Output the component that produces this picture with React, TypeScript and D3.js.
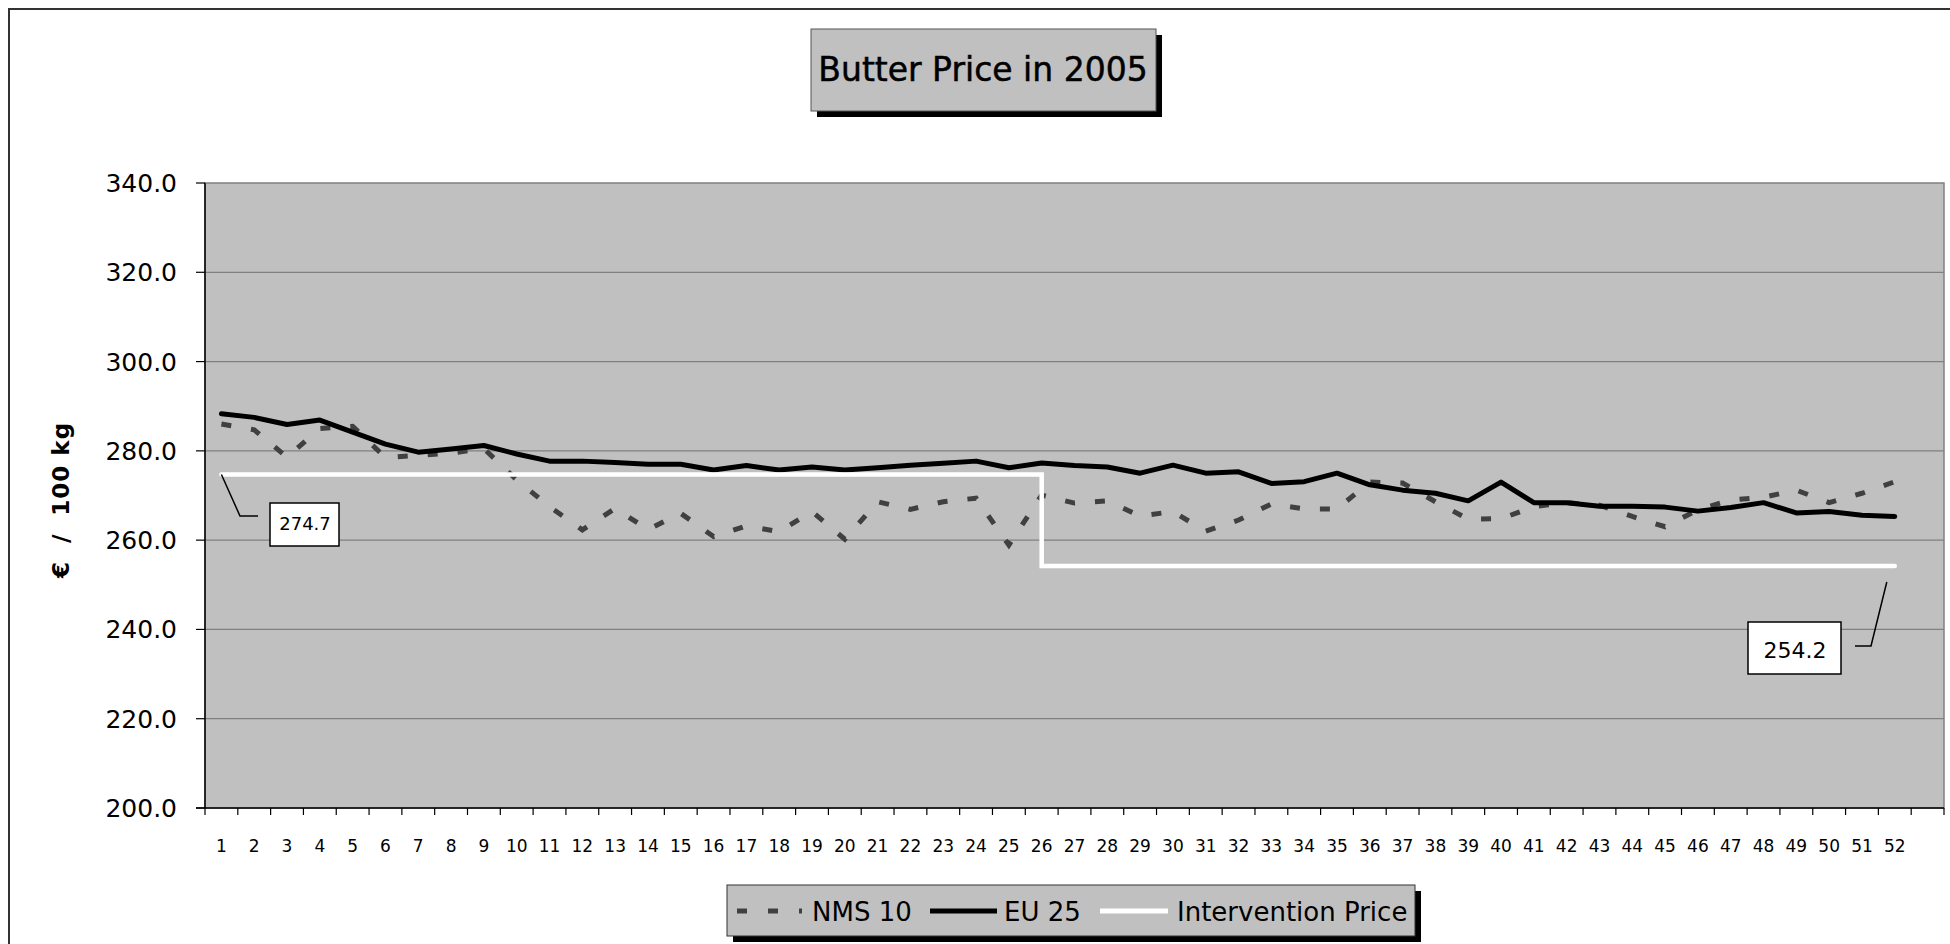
import { useEffect } from 'react';
import * as d3 from 'd3';

const weeks = d3.range(1, 53);
const yTicks = [200, 220, 240, 260, 280, 300, 320, 340];

// weekly prices, €/100 kg
const nms10 = [
  286.0, 284.7, 278.6, 285.0, 285.5, 278.5, 279.0, 279.5, 280.5, 273.5,
  267.5, 262.3, 267.1, 262.4, 266.0, 260.8, 263.2, 261.9, 266.4, 260.2,
  268.6, 266.9, 268.6, 269.4, 258.9, 270.1, 268.3, 268.8, 265.4, 266.4,
  262.0, 264.5, 268.1, 267.0, 267.0, 273.0, 272.8, 268.6, 264.7, 264.8,
  267.5, 268.4, 267.8, 265.3, 263.0, 266.8, 269.0, 269.6, 271.2, 268.4, 270.5, 273.1,
];
const eu25 = [
  288.3, 287.5, 285.9, 286.9, 284.2, 281.5, 279.7, 280.4, 281.2, 279.3,
  277.7, 277.7, 277.4, 277.0, 277.0, 275.7, 276.7, 275.7, 276.4, 275.7,
  276.2, 276.8, 277.2, 277.7, 276.2, 277.3, 276.7, 276.4, 275.0, 276.8,
  275.0, 275.3, 272.7, 273.1, 275.0, 272.4, 271.2, 270.5, 268.8, 273.0,
  268.4, 268.4, 267.6, 267.6, 267.4, 266.5, 267.3, 268.4, 266.1, 266.4, 265.6, 265.3,
];
// intervention price steps down in week 26
const intervention: [number, number][] = [[1, 274.7], [26, 274.7], [26, 254.2], [52, 254.2]];

const W = 1950;
const H = 944;
const PLOT = { left: 205, right: 1944, top: 183, bottom: 808 };
const FONT = '"DejaVu Sans", Verdana, sans-serif';

export default function App() {
  useEffect(() => {
    document.body.style.margin = '0';
  }, []);

  const xBand = d3.scaleBand<number>().domain(d3.range(1, 54)).range([PLOT.left, PLOT.right]);
  const x = (w: number) => (xBand(w) as number) + xBand.bandwidth() / 2;
  const y = d3.scaleLinear().domain([200, 340]).range([PLOT.bottom, PLOT.top]);

  const seriesLine = d3.line<number>().x((_, i) => x(weeks[i])).y(d => y(d));
  const stepLine = d3.line<[number, number]>().x(d => x(d[0])).y(d => y(d[1]));

  const tickXs = [...d3.range(1, 54).map(w => xBand(w) as number), PLOT.right];

  const p1 = intervention[0];
  const pEnd = intervention[intervention.length - 1];

  return (
    <svg width={W} height={H} style={{ display: 'block', background: '#fff' }} fontFamily={FONT}>
      {/* outer chart border */}
      <rect x={9} y={9} width={W} height={H} fill="none" stroke="#333" strokeWidth={2} />

      {/* title */}
      <rect x={817} y={35} width={345} height={82} fill="#000" />
      <rect x={811} y={29} width={345} height={82} fill="#c0c0c0" stroke="#555" strokeWidth={1} />
      <text x={983} y={81} textAnchor="middle" fontSize={33} fill="#000" stroke="#000" strokeWidth={0.5}>Butter Price in 2005</text>

      {/* plot area */}
      <rect x={PLOT.left} y={PLOT.top} width={PLOT.right - PLOT.left} height={PLOT.bottom - PLOT.top}
        fill="#c0c0c0" stroke="#808080" strokeWidth={1.5} />
      {yTicks.slice(1, -1).map(t => (
        <line key={t} x1={PLOT.left} x2={PLOT.right} y1={y(t)} y2={y(t)} stroke="#808080" strokeWidth={1.2} />
      ))}

      {/* axes */}
      <line x1={PLOT.left} x2={PLOT.left} y1={PLOT.top} y2={PLOT.bottom} stroke="#000" strokeWidth={1.5} />
      <line x1={196} x2={PLOT.right} y1={PLOT.bottom} y2={PLOT.bottom} stroke="#000" strokeWidth={1.5} />
      {yTicks.map(t => (
        <g key={t}>
          <line x1={196} x2={PLOT.left} y1={y(t)} y2={y(t)} stroke="#000" strokeWidth={1.2} />
          <text x={177} y={y(t) + 9} textAnchor="end" fontSize={25} fill="#000">{t.toFixed(1)}</text>
        </g>
      ))}
      {tickXs.map((tx, i) => (
        <line key={i} x1={tx} x2={tx} y1={PLOT.bottom} y2={PLOT.bottom + 7} stroke="#000" strokeWidth={1.2} />
      ))}
      {weeks.map(w => (
        <text key={w} x={x(w)} y={852} textAnchor="middle" fontSize={17} fill="#000">{w}</text>
      ))}
      <text transform={`translate(69,500) rotate(-90)`} textAnchor="middle" fontSize={23} fontWeight="bold"
        letterSpacing={1} style={{ whiteSpace: 'pre' }} fill="#000">{'€  /  100 kg'}</text>

      {/* series */}
      <path d={seriesLine(nms10) ?? ''} fill="none" stroke="#404040" strokeWidth={5} strokeDasharray="10,20" />
      <path d={seriesLine(eu25) ?? ''} fill="none" stroke="#000" strokeWidth={5} strokeLinejoin="round" strokeLinecap="round" />
      <path d={stepLine(intervention) ?? ''} fill="none" stroke="#fff" strokeWidth={4.5} strokeLinecap="round" />

      {/* callouts */}
      <polyline points={`${x(p1[0])},${y(p1[1])} 240,516 258,516`} fill="none" stroke="#000" strokeWidth={1.5} />
      <rect x={270} y={503} width={69} height={43} fill="#fff" stroke="#000" strokeWidth={1.5} />
      <text x={305} y={530} textAnchor="middle" fontSize={18} fill="#000">{p1[1].toFixed(1)}</text>

      <polyline points={`${x(pEnd[0]) - 8},582 1871,646 1855,646`} fill="none" stroke="#000" strokeWidth={1.5} />
      <rect x={1748} y={622} width={93} height={52} fill="#fff" stroke="#000" strokeWidth={1.5} />
      <text x={1795} y={658} textAnchor="middle" fontSize={22} fill="#000">{pEnd[1].toFixed(1)}</text>

      {/* legend */}
      <rect x={733} y={891} width={688} height={51} fill="#000" />
      <rect x={727} y={885} width={688} height={51} fill="#c0c0c0" stroke="#333" strokeWidth={1} />
      <line x1={737} x2={802} y1={911} y2={911} stroke="#404040" strokeWidth={5} strokeDasharray="10,21" />
      <text x={812} y={921} fontSize={26} fill="#000">NMS 10</text>
      <line x1={930} x2={997} y1={911} y2={911} stroke="#000" strokeWidth={5} />
      <text x={1004} y={921} fontSize={26} fill="#000">EU 25</text>
      <line x1={1100} x2={1168} y1={911} y2={911} stroke="#fff" strokeWidth={5} />
      <text x={1177} y={921} fontSize={26} fill="#000">Intervention Price</text>
    </svg>
  );
}
